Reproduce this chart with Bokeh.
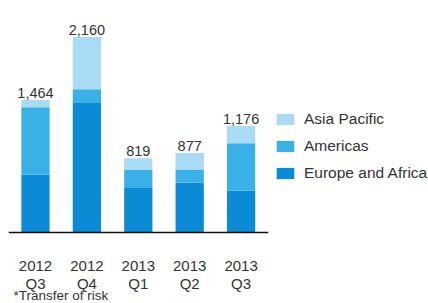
from bokeh.plotting import figure
from bokeh.models import ColumnDataSource, Range1d, Legend, LegendItem, Label
from bokeh.core.properties import value
from bokeh.embed import file_html
from bokeh.resources import INLINE

years = ["2012", "2012", "2013", "2013", "2013"]
quarters = ["Q3", "Q4", "Q1", "Q2", "Q3"]
europe_africa = [640, 1440, 490, 550, 460]
americas = [745, 143, 200, 145, 525]
asia_pacific = [79, 577, 129, 182, 191]
series_names = ["Europe and Africa", "Americas", "Asia Pacific"]
colors = ["#0b8bd6", "#3bb0e6", "#a9dcf4"]
footnote = "*Transfer of risk"

FONT = "Liberation Sans"
n = len(years)
xs = list(range(n))
totals = [a + b + c for a, b, c in zip(europe_africa, americas, asia_pacific)]
src = ColumnDataSource(dict(
    x=xs, year=years, quarter=quarters,
    eu=europe_africa, am=americas, ap=asia_pacific,
    total=totals, total_lbl=[f"{t:,}" for t in totals],
))

p = figure(width=428, height=303, output_backend="svg", toolbar_location=None,
           x_range=Range1d(-0.525, 7.646), y_range=Range1d(-785, 2475),
           min_border=0, min_border_left=8, min_border_top=8,
           outline_line_color=None)
p.axis.visible = False
p.grid.visible = False

r = p.vbar_stack(["eu", "am", "ap"], x="x", width=0.55, source=src,
                 color=colors, line_color=None)

# baseline
p.segment(x0=[-0.525], y0=[0], x1=[4.53], y1=[0], line_color="#111111", line_width=1.6)

# value labels
p.text(x="x", y="total", text="total_lbl", source=src, text_align="center",
       text_baseline="alphabetic", y_offset=-7, text_font=value(FONT),
       text_font_size="14.5px", text_color="#333333")

# category labels
p.text(x="x", y=0, text="year", source=src, text_align="center",
       text_baseline="alphabetic", y_offset=34, text_font=value(FONT),
       text_font_size="15px", text_color="#333333")
p.text(x="x", y=0, text="quarter", source=src, text_align="center",
       text_baseline="alphabetic", y_offset=51, text_font=value(FONT),
       text_font_size="15px", text_color="#333333")

p.add_layout(Label(x=5, y=8, x_units="screen", y_units="screen", text=footnote,
                   text_baseline="alphabetic", text_font=FONT, text_font_size="13.5px",
                   text_color="#333333"))

legend = Legend(items=[LegendItem(label=series_names[i], renderers=[r[i]]) for i in (2, 1, 0)],
                location=(266, 121), padding=0, margin=0, spacing=9,
                glyph_width=22, glyph_height=14, label_height=14, label_standoff=8,
                label_text_font=FONT, label_text_font_size="15.5px",
                label_text_color="#333333", border_line_color=None,
                background_fill_alpha=0)
p.add_layout(legend)

open("out.html", "w").write(file_html(p, INLINE))
